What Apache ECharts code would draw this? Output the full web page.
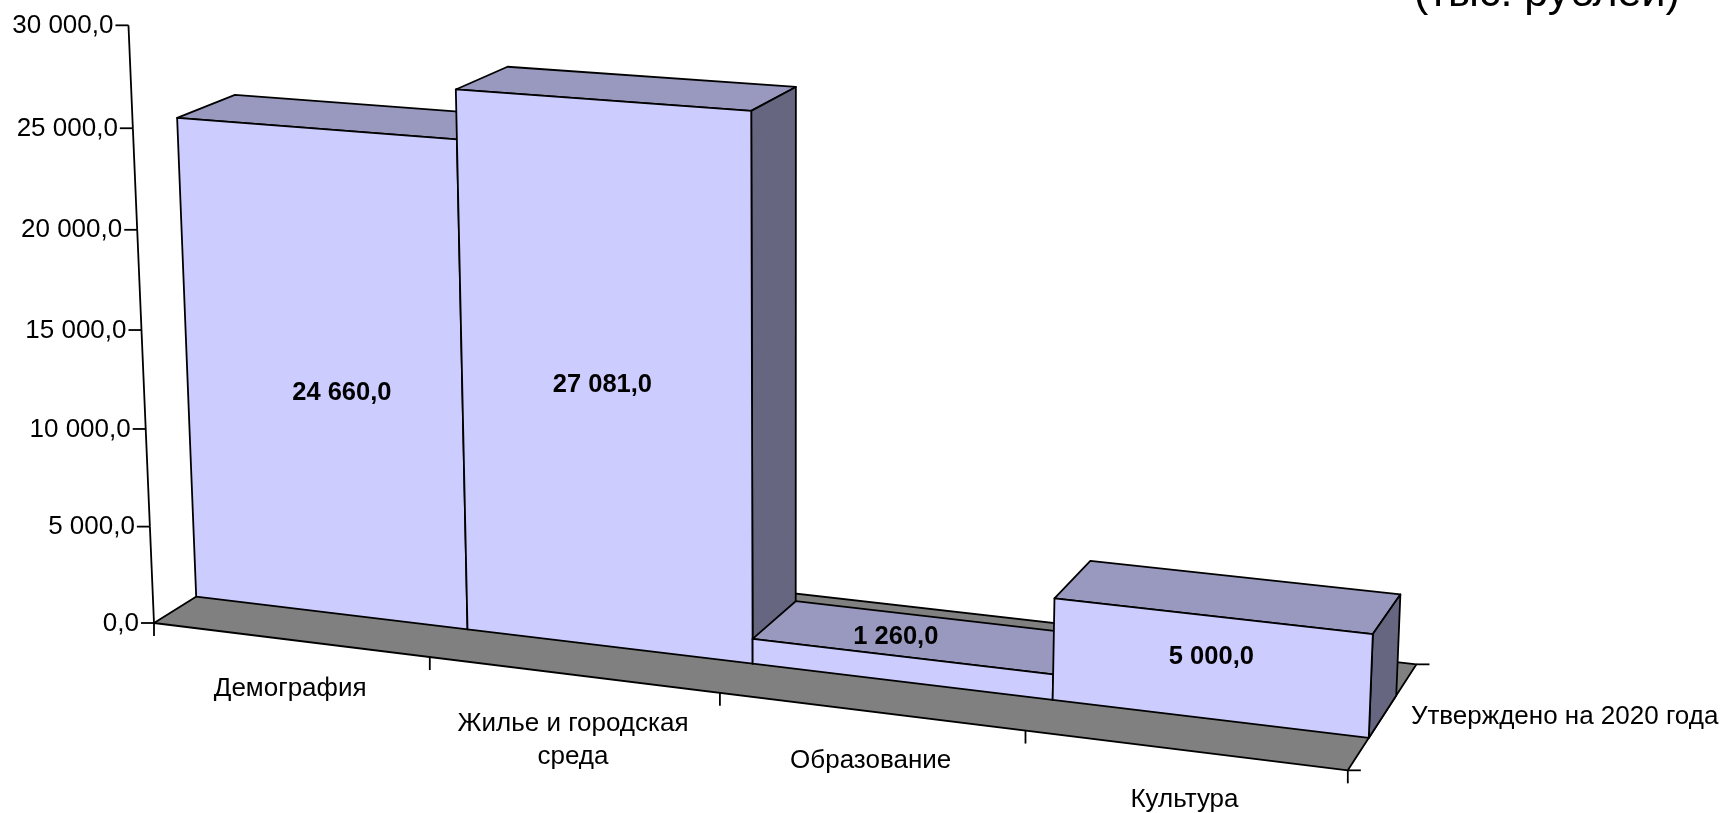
<!DOCTYPE html>
<html>
<head>
<meta charset="utf-8">
<style>html,body{margin:0;padding:0;background:#fff}#c{width:1723px;height:813px}</style>
<script src="https://cdn.jsdelivr.net/npm/echarts@6/dist/echarts.min.js"></script>
</head>
<body>
<div id="c"></div>
<script>
// ---- data ----
const categories = ['Демография', 'Жилье и городская\nсреда', 'Образование', 'Культура'];
const seriesName = 'Утверждено на 2020 года';
const values = [24660, 27081, 1260, 5000];
const valueLabels = ['24 660,0', '27 081,0', '1 260,0', '5 000,0'];
const yTicks = [0, 5000, 10000, 15000, 20000, 25000, 30000];
const yTickLabels = ['0,0', '5 000,0', '10 000,0', '15 000,0', '20 000,0', '25 000,0', '30 000,0'];
const titleText = '(тыс. рублей)';

// ---- camera: three vanishing points and per-unit perspective weights ----
const ORIGIN = [154, 623];
const VP_U = [-10745, -722], VP_V = [791, 15534], VP_W = [2320, -730];
const A = -0.02468, B = -1.2846e-6, C = 0.0685;
const BAR_FRONT = 0.29, BAR_BACK = 0.69;
function project(u, v, w) {
  const au = A * u, bv = B * v, cw = C * w, d = 1 + au + bv + cw;
  return [
    (au * VP_U[0] + bv * VP_V[0] + cw * VP_W[0] + ORIGIN[0]) / d,
    (au * VP_U[1] + bv * VP_V[1] + cw * VP_W[1] + ORIGIN[1]) / d
  ];
}

// flat hidden cartesian plane: the library's scales map values here, then we lift it into the 3D view
const PLANE_W = 1000, PLANE_H = 800, Y_MAX = 30000;
const liftU = px => px / PLANE_W * categories.length;
const liftV = py => (PLANE_H - py) / PLANE_H * Y_MAX;

const FONT = '26px "Liberation Sans", Arial, sans-serif';
const FONT_BOLD = 'bold 25.5px "Liberation Sans", Arial, sans-serif';
const LW = 1.8, INK = '#000';
const COL_FRONT = '#CCCCFF', COL_TOP = '#9999BF', COL_SIDE = '#666680', COL_FLOOR = '#808080';
const TICK = 13;
// hand placement of the data labels relative to the front-face centre, as in the reference
const labelNudge = [[19, 18], [-2.6, 6.6], [-5, -32.4], [1.3, -10.4]];

const poly = (points, fill) => ({type: 'polygon', shape: {points}, style: {fill, stroke: INK, lineWidth: LW, lineJoin: 'round'}});
const seg = (a, b) => ({type: 'line', shape: {x1: a[0], y1: a[1], x2: b[0], y2: b[1]}, style: {stroke: INK, lineWidth: LW, fill: null}});
const txt = (text, x, y, font, align, vAlign, lineHeight) => ({type: 'text', style: {text, x, y, font, textAlign: align, textVerticalAlign: vAlign, fill: INK, lineHeight}});

function renderFloor(params, api) {
  const n = categories.length;
  const vz = api.coord([0, 0]);
  const v0 = liftV(vz[1]);
  const a = project(0, v0, 0), b = project(n, v0, 0), c = project(n, v0, 1), d = project(0, v0, 1);
  return {type: 'group', children: [
    poly([a, b, c, d], COL_FLOOR),
    seg(b, [b[0], b[1] + TICK]),
    seg(b, [b[0] + TICK, b[1]]),
    seg(c, [c[0] + TICK, c[1]]),
    seg(a, [a[0], a[1] + TICK]),
    txt(seriesName, project(n, v0, 0.5)[0] + 27.5, project(n, v0, 0.5)[1] + 1.5, FONT, 'left', 'middle')
  ]};
}

function renderYAxis(params, api) {
  const v = liftV(api.coord([0, api.value(1)])[1]);
  const p = project(0, v, 0);
  const children = [
    seg([p[0] - TICK, p[1]], p),
    txt(yTickLabels[params.dataIndex], p[0] - TICK - 2, p[1] + 0.5, FONT, 'right', 'middle')
  ];
  if (params.dataIndex < yTicks.length - 1) {
    const q = project(0, liftV(api.coord([0, yTicks[params.dataIndex + 1]])[1]), 0);
    children.push(seg(p, q));
  }
  return {type: 'group', children};
}

function renderXLabels(params, api) {
  const i = params.dataIndex;
  const c = api.coord([i, 0]), bw = api.size([1, 0])[0];
  const v0 = liftV(c[1]);
  const tick = project(liftU(c[0] - bw / 2), v0, 0);
  const mid = project(liftU(c[0]), v0, 0);
  const children = [txt(categories[i], mid[0], mid[1] + 33, FONT, 'center', 'top', 33)];
  if (i > 0) children.push(seg(tick, [tick[0], tick[1] + TICK]));
  return {type: 'group', children};
}

function renderBar(params, api) {
  const i = params.dataIndex;
  const base = api.coord([i, 0]), top = api.coord([i, api.value(1)]), bw = api.size([1, 0])[0];
  const u0 = liftU(base[0] - bw / 2), u1 = liftU(base[0] + bw / 2);
  const v0 = liftV(base[1]), v1 = liftV(top[1]);
  const f = BAR_FRONT, k = BAR_BACK;
  return {type: 'group', children: [
    poly([project(u0, v1, f), project(u1, v1, f), project(u1, v1, k), project(u0, v1, k)], COL_TOP),
    poly([project(u1, v0, f), project(u1, v0, k), project(u1, v1, k), project(u1, v1, f)], COL_SIDE),
    poly([project(u0, v0, f), project(u1, v0, f), project(u1, v1, f), project(u0, v1, f)], COL_FRONT)
  ]};
}

function renderValueLabels(params, api) {
  const i = params.dataIndex;
  const c = api.coord([i, api.value(1) / 2]);
  const p = project(liftU(c[0]), liftV(c[1]), BAR_FRONT);
  return txt(valueLabels[i], p[0] + labelNudge[i][0], p[1] + labelNudge[i][1], FONT_BOLD, 'center', 'middle');
}

const barData = values.map((v, i) => [i, v]);
const custom = (name, renderItem, data) => ({
  type: 'custom', name, renderItem, data, clip: false, silent: true,
  coordinateSystem: 'cartesian2d', encode: {x: 0, y: 1}
});

const chart = echarts.init(document.getElementById('c'), null, {renderer: 'canvas', width: 1723, height: 813});
chart.setOption({
  animation: false,
  backgroundColor: '#fff',
  title: {text: titleText, left: 1414, top: -27.5, padding: 0,
    textStyle: {fontFamily: '"Liberation Sans", Arial, sans-serif', fontSize: 43, fontWeight: 'normal', color: '#000'}},
  grid: {left: 0, top: 0, width: PLANE_W, height: PLANE_H, containLabel: false},
  xAxis: {type: 'category', data: categories, show: false, boundaryGap: true},
  yAxis: {type: 'value', min: 0, max: Y_MAX, interval: 5000, show: false},
  series: [
    custom('floor', renderFloor, [[0, 0]]),
    custom('yAxis', renderYAxis, yTicks.map(t => [0, t])),
    custom('xAxis', renderXLabels, barData.map(d => [d[0], 0])),
    custom(seriesName, renderBar, barData),
    custom('values', renderValueLabels, barData)
  ]
});
</script>
</body>
</html>
